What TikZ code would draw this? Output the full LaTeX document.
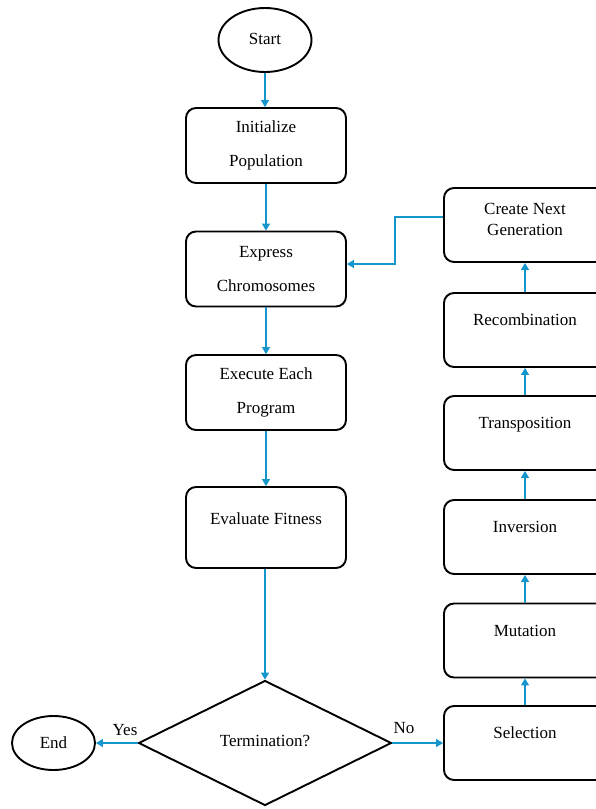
\documentclass[tikz,border=0pt]{standalone}
\usepackage{fontspec}
\setmainfont{Liberation Serif}
\usetikzlibrary{shapes.geometric,arrows.meta}
\definecolor{flow}{RGB}{20,150,205}
\tikzset{
  box/.style={draw, line width=1.9pt, rounded corners=10pt, minimum width=160pt, minimum height=75pt, align=center, inner sep=2pt, font=\fontsize{17}{19.5}\selectfont},
  rbox/.style={box, minimum width=162pt, minimum height=74pt, text depth=20pt},
  term/.style={draw, line width=1.9pt, ellipse, inner sep=0pt, font=\fontsize{17}{19.5}\selectfont},
  dec/.style={draw, line width=1.9pt, diamond, inner sep=0pt, minimum width=253pt, minimum height=125pt, font=\fontsize{17}{19.5}\selectfont},
  lbl/.style={inner sep=1pt, font=\fontsize{17}{19.5}\selectfont},
  conn/.style={draw=flow, line width=1.3pt, -{Triangle[width=8pt,length=7pt]}}
}
\begin{document}
\begin{tikzpicture}[x=1pt,y=-1pt]
\useasboundingbox (0,0) rectangle (596,809);
\clip (0,0) rectangle (596,809);
\fill[white] (0,0) rectangle (596,809);
% left column
\node[term, minimum width=93pt, minimum height=64pt] (start) at (265,40) {\raisebox{3pt}{Start}};
\node[box] (init) at (266,145.5) {Initialize\\[15pt]Population};
\node[box] (expr) at (266,269) {Express\\[15pt]Chromosomes};
\node[box] (exec) at (266,392.5) {Execute Each\\[15pt]Program};
\node[box, minimum height=81pt, text depth=17pt] (eval) at (266,527.5) {Evaluate Fitness};
\node[dec] (dec) at (265,743) {\raisebox{4pt}{Termination?}};
\node[term, minimum width=83pt, minimum height=54pt] (end) at (53.5,743) {End};
% right column
\node[rbox] (sel) at (525,743) {Selection};
\node[rbox] (mut) at (525,640.5) {Mutation};
\node[rbox] (inv) at (525,537) {Inversion};
\node[rbox] (tra) at (525,433) {Transposition};
\node[rbox] (rec) at (525,330) {Recombination};
\node[rbox, text depth=11pt] (cng) at (525,225) {Create Next\\[1pt]Generation};
% labels
\node[lbl] (yes) at (125,730) {Yes};
\node[lbl] (no) at (404,728) {No};
% connectors
\draw[conn] (start) -- (start |- init.north);
\draw[conn] (init) -- (expr);
\draw[conn] (expr) -- (exec);
\draw[conn] (exec) -- (eval);
\draw[conn] (eval.south -| dec.north) -- (dec.north);
\draw[conn] (dec.west) -- (end.east);
\draw[conn] (dec.east) -- (sel.west);
\draw[conn] (sel) -- (mut);
\draw[conn] (mut) -- (inv);
\draw[conn] (inv) -- (tra);
\draw[conn] (tra) -- (rec);
\draw[conn] (rec) -- (cng);
\coordinate (bendA) at (395,217);
\coordinate (bendB) at (395,264);
\draw[conn] ([yshift=8pt]cng.west) -- (bendA) -- (bendB) -- ([yshift=5pt]expr.east);
\end{tikzpicture}
\end{document}
